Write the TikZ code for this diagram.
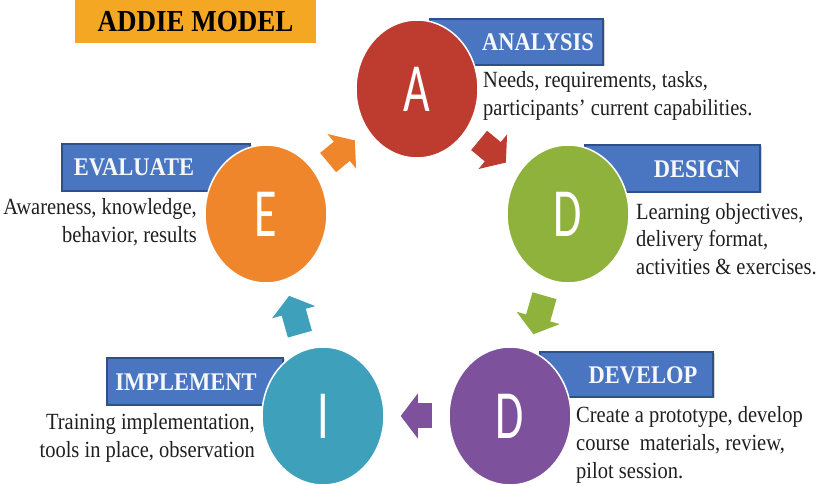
\documentclass[tikz,border=0pt]{standalone}
\usepackage{fontspec}
\usepackage{graphicx}
\setmainfont{Liberation Serif}
\newfontfamily\letterfont{Carlito}
\usetikzlibrary{shapes.geometric,arrows.meta,shadows}

\definecolor{addiered}{HTML}{BE3B30}
\definecolor{addieorange}{HTML}{F0862C}
\definecolor{addiegreen}{HTML}{8FB23C}
\definecolor{addiepurple}{HTML}{7D519C}
\definecolor{addieteal}{HTML}{3FA0BB}
\definecolor{tagblue}{HTML}{4A76C1}
\definecolor{tagedge}{HTML}{2D4F8C}
\definecolor{titlegold}{HTML}{F4A722}

\newcommand{\phaseletter}[1]{\scalebox{1}[1.5]{#1}}

\tikzset{
  phase/.style={ellipse, fill=#1, draw=white, line width=1.5pt,
    minimum width=122pt, minimum height=138pt, inner sep=0pt,
    text=white, font=\letterfont\fontsize{46}{46}\selectfont},
  tagbox/.style={fill=tagblue, draw=tagedge, line width=1.2pt,
    drop shadow={shadow xshift=1.5pt, shadow yshift=-1.5pt, opacity=0.35}},
  tagtext/.style={text=white!95!tagblue, font=\rmfamily\bfseries\fontsize{22.5}{24}\selectfont,
    yscale=1.13, inner sep=0pt},
  note/.style={text=black!88, font=\rmfamily\fontsize{20.5}{24.5}\selectfont,
    yscale=1.13, inner sep=0pt},
  flow/.style={line width=25pt, -{Triangle[length=17pt, width=44pt]},
    shorten <=16pt, shorten >=16pt}
}

\begin{document}
\begin{tikzpicture}[x=1pt, y=-1pt]
    \useasboundingbox (0,0) rectangle (823,486);

    % Title
    \node[fill=titlegold, minimum width=241pt, minimum height=38pt, yscale=1.13,
          font=\rmfamily\bfseries\fontsize{27}{28}\selectfont] (title) at (195.5,21.5) {ADDIE MODEL};

    % Blue tags (behind the circles)
    \draw[tagbox] (430,19) rectangle (603,65);
    \draw[tagbox] (585,145) rectangle (760,192);
    \draw[tagbox] (540,352) rectangle (713,397);
    \draw[tagbox] (107,358) rectangle (283,405);
    \draw[tagbox] (62,144) rectangle (250,191);

    \node[tagtext] (analysis) at (538,42) {ANALYSIS};
    \node[tagtext] (design) at (697,169) {DESIGN};
    \node[tagtext] (develop) at (643,375) {DEVELOP};
    \node[tagtext] (implement) at (186,382) {IMPLEMENT};
    \node[tagtext] (evaluate) at (134,167) {EVALUATE};

    % The five phases
    \node[phase=addiered] (A) at (417,89) {\phaseletter{A}};
    \node[phase=addiegreen] (Ds) at (568,214) {\phaseletter{D}};
    \node[phase=addiepurple] (Dv) at (510,416) {\phaseletter{D}};
    \node[phase=addieteal] (I) at (323,416) {\phaseletter{I}};
    \node[phase=addieorange] (E) at (266,214) {\phaseletter{E}};

    % Block arrows round the cycle
    \draw[flow, addieorange] (E) -- (A);
    \draw[flow, addiered] (A) -- (Ds);
    \draw[flow, addiegreen] (Ds) -- (Dv);
    \draw[flow, addiepurple] (Dv) -- (I);
    \draw[flow, addieteal] (I) -- (E);

    % Descriptions
    \node[note, anchor=west, align=left] (analysisnote) at (483,96)
        {Needs, requirements, tasks,\\ participants’ current capabilities.};
    \node[note, anchor=west, align=left] (designnote) at (636,239)
        {Learning objectives,\\ delivery format,\\ activities \& exercises.};
    \node[note, anchor=west, align=left] (developnote) at (576,445)
        {Create a prototype, develop\\ course\ \ materials, review,\\ pilot session.};
    \node[note, anchor=east, align=right] (implementnote) at (255,438)
        {Training implementation,\\ tools in place, observation};
    \node[note, anchor=east, align=right] (evaluatenote) at (197,222)
        {Awareness, knowledge,\\ behavior, results};

\end{tikzpicture}
\end{document}
